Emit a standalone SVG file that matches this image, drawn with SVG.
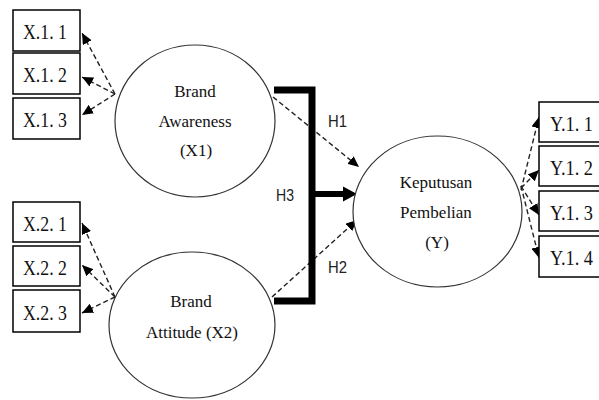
<svg xmlns="http://www.w3.org/2000/svg" width="599" height="400" viewBox="0 0 599 400">
<defs>
<marker id="ah" markerUnits="userSpaceOnUse" markerWidth="11" markerHeight="10" viewBox="0 0 11 10" refX="11" refY="5" orient="auto">
<path d="M0,0 L11,5 L0,10 z" fill="#000"/>
</marker>
</defs>
<style>
.box{fill:#fff;stroke:#000;stroke-width:1.5}
.ell{fill:#fff;stroke:#333;stroke-width:1.2}
.bt{font-family:"Liberation Serif",serif;font-size:21px;fill:#111}
.et{font-family:"Liberation Serif",serif;font-size:17px;fill:#111;text-anchor:middle}
.h{font-family:"Liberation Sans",sans-serif;font-size:17px;fill:#222}
.d{fill:none;stroke:#222;stroke-width:1.4;stroke-dasharray:5 3;marker-end:url(#ah)}
</style>
<rect width="599" height="400" fill="#fff"/>
<g id="connectors">
<line class="d" x1="115" y1="94" x2="82" y2="33"/>
<line class="d" x1="115" y1="94" x2="82" y2="77"/>
<line class="d" x1="115" y1="94" x2="82" y2="115"/>
<line class="d" x1="115" y1="297" x2="82" y2="223"/>
<line class="d" x1="115" y1="297" x2="82" y2="265"/>
<line class="d" x1="115" y1="297" x2="82" y2="313"/>
<line class="d" x1="521" y1="190" x2="539" y2="117"/>
<line class="d" x1="521" y1="188" x2="539" y2="170"/>
<line class="d" x1="521" y1="186" x2="539" y2="215"/>
<line class="d" x1="521" y1="186" x2="539" y2="258"/>
<line class="d" x1="273" y1="97" x2="359" y2="167"/>
<line class="d" x1="272" y1="297" x2="357" y2="220"/>
<polyline points="274,90 312,90 312,301 274,301" fill="none" stroke="#000" stroke-width="7" stroke-linejoin="miter"/>
<line x1="312" y1="194" x2="345" y2="194" stroke="#000" stroke-width="6"/>
<polygon points="343,186.5 357,194 343,201.5" fill="#000"/>
</g>
<g id="x11"><rect class="box" x="13" y="10" width="67" height="41"/><text class="bt" x="23" y="39" textLength="44" lengthAdjust="spacingAndGlyphs">X.1. 1</text></g>
<g id="x12"><rect class="box" x="13" y="53" width="67" height="41"/><text class="bt" x="23" y="82" textLength="44" lengthAdjust="spacingAndGlyphs">X.1. 2</text></g>
<g id="x13"><rect class="box" x="13" y="98" width="67" height="41"/><text class="bt" x="23" y="127" textLength="44" lengthAdjust="spacingAndGlyphs">X.1. 3</text></g>
<g id="x21"><rect class="box" x="13" y="202" width="67" height="40"/><text class="bt" x="23" y="231" textLength="44" lengthAdjust="spacingAndGlyphs">X.2. 1</text></g>
<g id="x22"><rect class="box" x="13" y="246" width="67" height="40"/><text class="bt" x="23" y="275" textLength="44" lengthAdjust="spacingAndGlyphs">X.2. 2</text></g>
<g id="x23"><rect class="box" x="13" y="290" width="67" height="42"/><text class="bt" x="23" y="320" textLength="44" lengthAdjust="spacingAndGlyphs">X.2. 3</text></g>
<g id="y11"><rect class="box" x="539" y="102" width="64" height="40"/><text class="bt" x="550" y="131" textLength="43" lengthAdjust="spacingAndGlyphs">Y.1. 1</text></g>
<g id="y12"><rect class="box" x="539" y="146" width="64" height="40"/><text class="bt" x="550" y="175" textLength="43" lengthAdjust="spacingAndGlyphs">Y.1. 2</text></g>
<g id="y13"><rect class="box" x="539" y="191" width="64" height="40"/><text class="bt" x="550" y="220" textLength="43" lengthAdjust="spacingAndGlyphs">Y.1. 3</text></g>
<g id="y14"><rect class="box" x="539" y="236" width="64" height="41"/><text class="bt" x="550" y="265" textLength="43" lengthAdjust="spacingAndGlyphs">Y.1. 4</text></g>
<g id="x1">
<ellipse class="ell" cx="195" cy="121" rx="80" ry="76"/>
<text class="et" x="195" y="97">Brand</text>
<text class="et" x="195" y="127">Awareness</text>
<text class="et" x="196" y="156">(X1)</text>
</g>
<g id="x2">
<ellipse class="ell" cx="192" cy="325" rx="83" ry="73"/>
<text class="et" x="191" y="307">Brand</text>
<text class="et" x="192" y="338">Attitude (X2)</text>
</g>
<g id="y">
<ellipse class="ell" cx="437.5" cy="211.5" rx="84.5" ry="75.5"/>
<text class="et" x="436" y="188">Keputusan</text>
<text class="et" x="436" y="218">Pembelian</text>
<text class="et" x="437" y="248">(Y)</text>
</g>
<g id="labels">
<text class="h" x="328" y="127" textLength="19" lengthAdjust="spacingAndGlyphs">H1</text>
<text class="h" x="276" y="201" textLength="18" lengthAdjust="spacingAndGlyphs">H3</text>
<text class="h" x="328" y="273" textLength="19" lengthAdjust="spacingAndGlyphs">H2</text>
</g>
</svg>
